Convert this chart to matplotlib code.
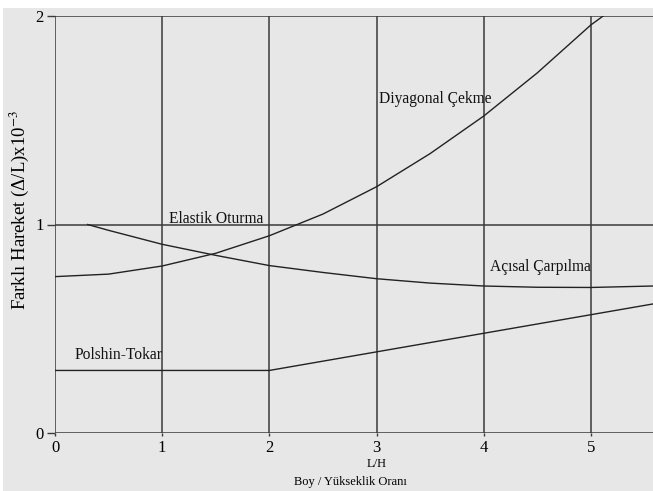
import matplotlib
matplotlib.use("Agg")
import matplotlib.pyplot as plt
from matplotlib.patches import Rectangle

plt.rcParams["font.family"] = ["Liberation Serif", "DejaVu Serif"]
plt.rcParams["mathtext.fontset"] = "stix"

# Curves: L/H vs differential movement (x10^-3)
diag_x = [0, 0.5, 1, 1.5, 2, 2.5, 3, 3.5, 4, 4.5, 5, 5.115]
diag_y = [0.750, 0.762, 0.801, 0.862, 0.946, 1.050, 1.181, 1.340, 1.52, 1.727, 1.957, 2.0]

elastic_x = [0.305, 0.5, 1, 1.5, 2, 2.5, 3, 3.5, 4, 4.5, 5, 5.58]
elastic_y = [1.0, 0.972, 0.905, 0.852, 0.803, 0.770, 0.740, 0.719, 0.705, 0.699, 0.698, 0.705]

polshin_x = [0, 2, 5.58]
polshin_y = [0.3, 0.3, 0.619]

x_ticks = [0, 1, 2, 3, 4, 5]
y_ticks = [0, 1, 2]

labels = ["Diyagonal Çekme", "Elastik Oturma", "Açısal Çarpılma", "Polshin-Tokar"]
label_x = [3.02, 1.06, 4.06, 0.18]
label_y = [1.60, 1.005, 0.795, 0.374]

bg = "#e7e7e7"
fig = plt.figure(figsize=(6.53, 4.91), dpi=100)
fig.patch.set_facecolor("white")
fig.patches.append(Rectangle((3 / 653, 0), 1, 1 - 8 / 491, transform=fig.transFigure,
                             facecolor=bg, edgecolor="none", zorder=-10))

ax = fig.add_axes([55 / 653, 1 - 433 / 491, 1 - 55 / 653, (433 - 16) / 491])
ax.set_facecolor(bg)
ax.set_xlim(0, 5.58)
ax.set_ylim(0, 2)

grid_c = "#3a3a3a"
for xv in x_ticks:
    ax.axvline(xv, color=grid_c, lw=1.1, zorder=1)
for yv in y_ticks:
    ax.axhline(yv, color=grid_c, lw=1.1, zorder=1)

line_c = "#222222"
ax.plot(diag_x, diag_y, color=line_c, lw=1.0, zorder=2)
ax.plot(elastic_x, elastic_y, color=line_c, lw=1.0, zorder=2)
ax.plot(polshin_x, polshin_y, color=line_c, lw=1.0, zorder=2)

for t, lx, ly in zip(labels, label_x, label_y):
    va = "baseline" if t == "Elastik Oturma" else "center"
    ax.text(lx, ly, t, fontsize=11.2, ha="left", va=va, color="#111111", zorder=3)

for s in ax.spines.values():
    s.set_visible(False)

ax.set_xticks(x_ticks)
ax.set_yticks(y_ticks)
ax.tick_params(axis="y", length=6, width=1.0, color=grid_c, labelsize=12, pad=2)
ax.tick_params(axis="x", length=2, width=1.0, color=grid_c, labelsize=12, pad=3)

fig.text(377 / 653, 1 - 464 / 491, "L/H", fontsize=9, ha="center", va="center")
fig.text(350 / 653, 1 - 482 / 491, "Boy / Yükseklik Oranı", fontsize=9, ha="center", va="center")
fig.text(19 / 653, 1 - 210 / 491, "Farklı Hareket (Δ/L)x10$^{-3}$", fontsize=13.5,
         rotation=90, ha="center", va="center")

fig.savefig("out.png", dpi=100, facecolor=fig.get_facecolor())
